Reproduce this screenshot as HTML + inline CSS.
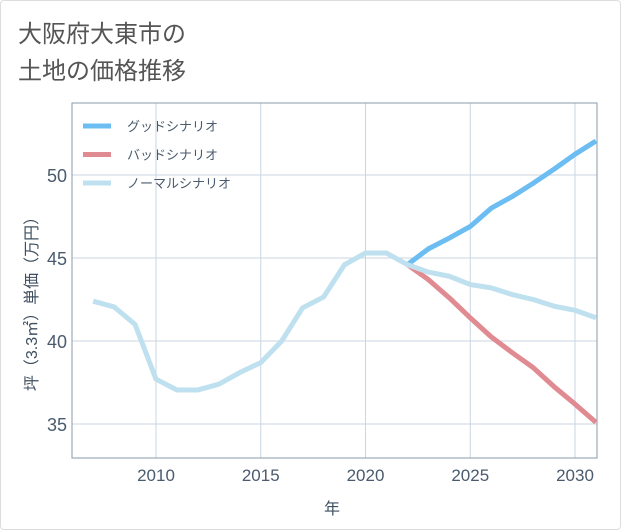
<!DOCTYPE html>
<html><head><meta charset="utf-8"><style>
body{margin:0;background:#fff;font-family:"Liberation Sans","Noto Sans CJK JP",sans-serif}
#wrap{position:relative;width:619px;height:528px;border:1px solid #ddd;border-radius:4px}
</style></head><body>
<div id="wrap">
<svg id="chart" width="621" height="530" style="position:absolute;left:-1px;top:-1px">
<text x="18" y="42" font-size="24" fill="#555">大阪府大東市の</text>
<text x="18" y="79" font-size="24" fill="#555">土地の価格推移</text>
<g id="grid"></g>
<rect x="72" y="103" width="525" height="355" fill="none" stroke="#8a9aa8" stroke-width="1"/>
<g id="series"></g>
<g id="axes"></g>
<text x="332" y="514" font-size="16" fill="#3f4f60" text-anchor="middle">年</text>
<text transform="translate(37,300) rotate(-90)" font-size="16" fill="#3f4f60" text-anchor="middle">坪（3.3㎡）単価（万円）</text>
<g id="legend"></g>
</svg>
</div>
<script>
const years=[2007,2008,2009,2010,2011,2012,2013,2014,2015,2016,2017,2018,2019,2020,2021,2022,2023,2024,2025,2026,2027,2028,2029,2030,2031];
const normalVals=[42.4,42.05,41.0,37.7,37.05,37.05,37.4,38.1,38.7,40.0,42.0,42.65,44.6,45.3,45.3,44.6,44.15,43.9,43.4,43.2,42.8,42.5,42.1,41.85,41.4];
const futureYears=[2022,2023,2024,2025,2026,2027,2028,2029,2030,2031];
const goodVals=[44.6,45.55,46.2,46.9,48.0,48.7,49.5,50.35,51.25,52.05];
const badVals=[44.6,43.7,42.6,41.4,40.25,39.3,38.4,37.25,36.2,35.1];
const xTicks=[2010,2015,2020,2025,2030];
const yTicks=[35,40,45,50];
const names=["グッドシナリオ","バッドシナリオ","ノーマルシナリオ"];
const colors=["#6bbdf2","#e08a92","#bfe0ee"];
const NS="http://www.w3.org/2000/svg";
const X=y=>156+(y-2010)*(575-156)/20;
const Y=v=>175+(50-v)*(424-175)/15;
function mk(tag,parent,attrs){const e=document.createElementNS(NS,tag);for(const k in attrs)e.setAttribute(k,attrs[k]);parent.appendChild(e);return e;}
const grid=document.getElementById('grid'),axes=document.getElementById('axes'),ser=document.getElementById('series'),leg=document.getElementById('legend');
xTicks.forEach(t=>{
 const l=mk('line',grid,{x1:X(t),x2:X(t),y1:103,y2:458,stroke:'#c8d6e2','stroke-width':1});
 
 
 const tx=mk('text',axes,{x:X(t),y:481,'font-size':17,fill:'#4a5b6d','text-anchor':'middle'});tx.textContent=t;
 
 
});
yTicks.forEach(t=>{
 const l=mk('line',grid,{x1:72,x2:597,y1:Y(t),y2:Y(t),stroke:'#c8d6e2','stroke-width':1});
 
 
 const tx=mk('text',axes,{x:67,y:Y(t)+7,'font-size':18,fill:'#4a5b6d','text-anchor':'end'});tx.textContent=t;
 
 
});
function line(xs,vs,c,name){
 const p=mk('polyline',ser,{points:xs.map((y,i)=>X(y)+','+Y(vs[i])).join(' '),fill:'none',stroke:c,'stroke-width':5,'stroke-linejoin':'round'});
 
 
}
line(futureYears,goodVals,colors[0],'good-scenario-line');
line(futureYears,badVals,colors[1],'bad-scenario-line');
line(years,normalVals,colors[2],'normal-scenario-line');
names.forEach((n,i)=>{
 const y=126+i*28.5;
 const g=mk('g',leg,{});
 
 
 mk('line',g,{x1:83,x2:111,y1:y,y2:y,stroke:colors[i],'stroke-width':5});
 const t=mk('text',g,{x:127,y:y+5,'font-size':13,fill:'#4a5b6d'});t.textContent=n;
});
</script>
</body></html>
